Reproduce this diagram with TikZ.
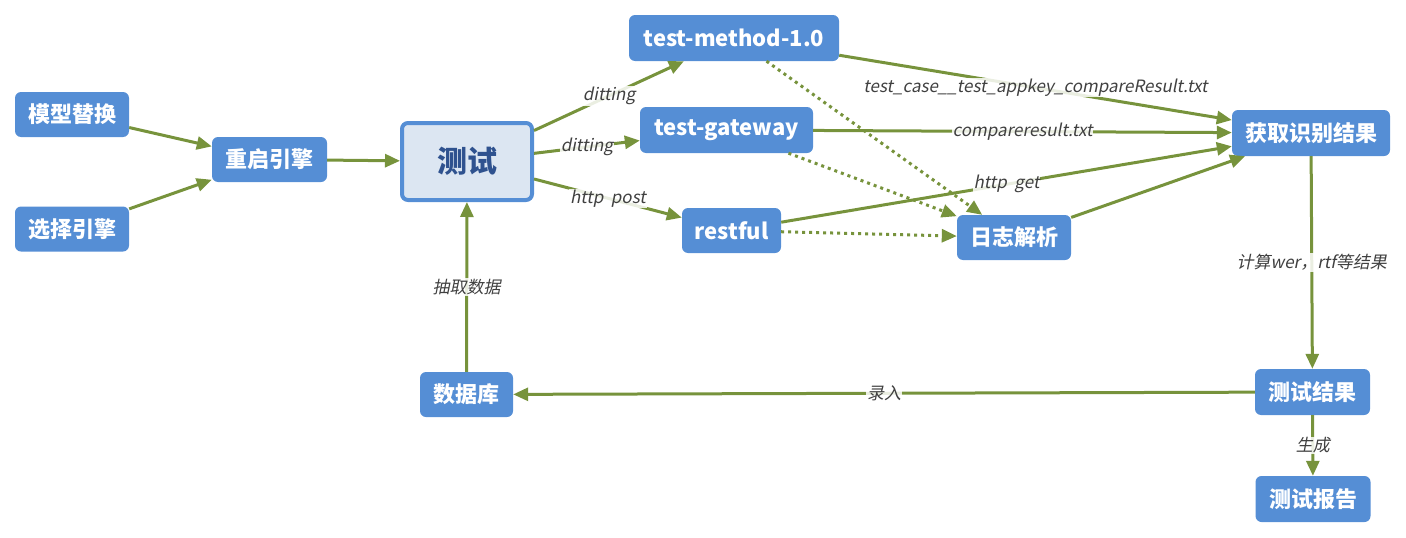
\documentclass[tikz,border=0pt]{standalone}
\usepackage{fontspec}
\setmainfont{Noto Sans CJK SC}
\newfontfamily\lblfont[FakeSlant=0.2]{Noto Sans CJK SC}
\usetikzlibrary{arrows.meta}
\definecolor{nodeblue}{HTML}{558ED5}
\definecolor{edgegreen}{HTML}{77933C}
\definecolor{lblgray}{HTML}{404040}
\definecolor{testfill}{HTML}{DCE6F2}
\definecolor{testtext}{HTML}{2F528F}
\begin{document}
\begin{tikzpicture}[x=1pt,y=-1pt,
 box/.style={draw=none, fill=nodeblue, rounded corners=6pt, text=white, font=\fontsize{22}{24}\selectfont\bfseries, inner sep=0pt, align=center},
 mainbox/.style={draw=nodeblue, line width=4pt, fill=testfill, rounded corners=6pt, text=testtext, font=\fontsize{30}{32}\selectfont\bfseries, inner sep=0pt},
 conn/.style={draw=edgegreen, line width=3pt, -{Triangle[length=15pt,width=13pt]}},
 dotconn/.style={conn, dash pattern=on 3pt off 4pt},
 lbl/.style={fill=white, fill opacity=0.85, text opacity=1, text=lblgray, font=\lblfont\fontsize{17}{19}\selectfont, inner sep=1pt}
]
\useasboundingbox (0,0) rectangle (1406,538);

\node[box, minimum width=114pt, minimum height=45pt] (mx) at (72,114.5) {模型替换};
\node[box, minimum width=114pt, minimum height=45pt] (xz) at (72,229) {选择引擎};
\node[box, minimum width=115pt, minimum height=45pt] (cq) at (269.5,159.5) {重启引擎};
\node[mainbox, minimum width=130pt, minimum height=77pt] (cs) at (467,161.5) {测试};
\node[box, minimum width=210pt, minimum height=46pt] (tm) at (734,38) {test-method-1.0};
\node[box, minimum width=173pt, minimum height=46pt] (tg) at (726.5,130) {test-gateway};
\node[box, minimum width=99pt, minimum height=45pt] (rf) at (731.5,230.5) {restful};
\node[box, minimum width=114pt, minimum height=45pt] (rz) at (1014,237.5) {日志解析};
\node[box, minimum width=158pt, minimum height=46pt] (hq) at (1311,133) {获取识别结果};
\node[box, minimum width=115pt, minimum height=46pt] (jg) at (1312.5,392) {测试结果};
\node[box, minimum width=115pt, minimum height=46pt] (bg) at (1313,499) {测试报告};
\node[box, minimum width=93pt, minimum height=45pt] (db) at (466.5,394.5) {数据库};

\draw[conn] (mx) -- (cq);
\draw[conn] (xz) -- (cq);
\draw[conn] (cq) -- (cs);
\draw[conn] (cs) -- node[lbl] {ditting} (tm);
\draw[conn] (cs) -- node[lbl] {ditting} (tg);
\draw[conn] (cs) -- node[lbl] {http\ \ post} (rf);
\draw[dotconn] (tm) -- (rz);
\draw[dotconn] (tg) -- (rz);
\draw[dotconn] (rf) -- (rz);
\draw[conn] (tm) -- node[lbl] {test\_case\_\_test\_appkey\_compareResult.txt} (hq);
\draw[conn] (tg) -- node[lbl] {compareresult.txt} (hq);
\draw[conn] (rf) -- node[lbl] {http\ \ get} (hq);
\draw[conn] (rz) -- (hq);
\draw[conn] (hq) -- node[lbl] {计算wer，rtf等结果} (jg);
\draw[conn] (jg) -- node[lbl] {录入} (db);
\draw[conn] (db) -- node[lbl] {抽取数据} (cs);
\draw[conn] (jg) -- node[lbl] {生成} (bg);
\end{tikzpicture}
\end{document}
